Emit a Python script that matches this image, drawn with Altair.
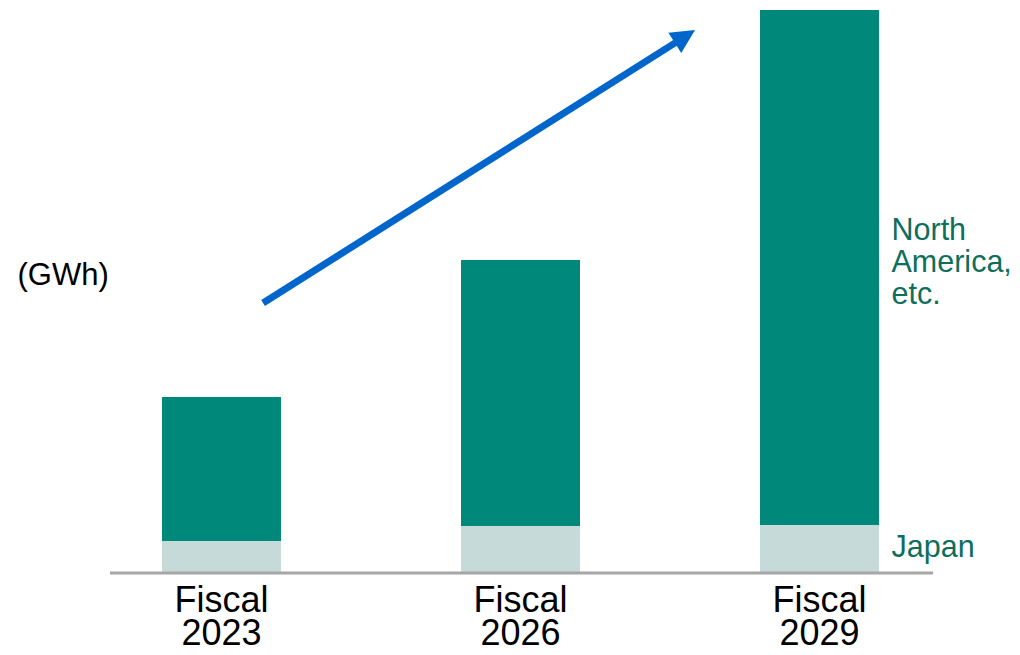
import altair as alt
import pandas as pd

# ---- data ----
years = ["Fiscal 2023", "Fiscal 2026", "Fiscal 2029"]
japan = [3.1, 4.6, 4.7]
north_america = [14.4, 26.6, 51.5]
segments = ["Japan", "North America, etc."]
seg_colors = ["#c6dbd9", "#00897a"]
unit_label = "(GWh)"
na_label = ["North", "America,", "etc."]
jp_label = ["Japan"]

# annotation arrow (x in category-position units, y in value units)
arrow_tail = [0.139, 26.9]
arrow_end = [1.525, 53.06]
arrow_head = [1.550, 53.55]
axis_extent = [-0.373, 2.38]

rows = []
for i, y in enumerate(years):
    rows.append({"year": y, "segment": segments[0], "value": japan[i], "ord": 0})
    rows.append({"year": y, "segment": segments[1], "value": north_america[i], "ord": 1})
df = pd.DataFrame(rows)

na_df = pd.DataFrame({"year": [years[-1]], "label": [na_label],
                      "ymid": [japan[-1] + north_america[-1] / 2]})
jp_df = pd.DataFrame({"year": [years[-1]], "label": [jp_label],
                      "ymid": [japan[-1] / 2]})

arrow_df = pd.DataFrame({"x": [arrow_tail[0]], "y": [arrow_tail[1]],
                         "x2": [arrow_end[0]], "y2": [arrow_end[1]]})
head_df = pd.DataFrame({"x": [arrow_head[0]], "y": [arrow_head[1]]})
axis_df = pd.DataFrame({"x": [axis_extent[0]], "x2": [axis_extent[1]], "y": [0]})

FONT = "Liberation Sans"
X_RANGE = [64, 961]
yscale = alt.Scale(domain=[0, 56.4], nice=False, zero=True)
xband = alt.Scale(domain=years, range=X_RANGE, paddingInner=0.602, paddingOuter=0.301)
xpos = alt.Scale(domain=[-0.5, 2.5], range=X_RANGE, nice=False, zero=False)

bars = alt.Chart(df).mark_bar(strokeWidth=0).encode(
    x=alt.X("year:N", scale=xband, sort=years,
            axis=alt.Axis(title=None, domain=False, ticks=False, labelAngle=0,
                          labelExpr="split(datum.value, ' ')", labelFont=FONT,
                          labelFontSize=36, labelColor="#000000",
                          labelBaseline="alphabetic", labelPadding=39,
                          labelLineHeight=33, labelOverlap=False)),
    y=alt.Y("value:Q", stack="zero", scale=yscale,
            axis=alt.Axis(title=unit_label, labels=False, ticks=False, domain=False,
                          grid=False, titleAngle=0, titleX=9, titleY=267,
                          titleAlign="left", titleBaseline="middle",
                          titleFont=FONT, titleFontSize=31, titleFontWeight="normal",
                          titleColor="#000000")),
    color=alt.Color("segment:N", scale=alt.Scale(domain=segments, range=seg_colors), legend=None),
    order=alt.Order("ord:Q"),
)


def side_label(data, dy):
    return alt.Chart(data).mark_text(
        align="left", baseline="middle", dx=72, dy=dy, font=FONT, fontSize=30.5,
        lineHeight=32, color="#0e6e5c"
    ).encode(
        x=alt.X("year:N", scale=xband, sort=years, axis=None),
        y=alt.Y("ymid:Q", scale=yscale),
        text="label",
    )


na_text = side_label(na_df, -37)
jp_text = side_label(jp_df, -1)

axis_line = alt.Chart(axis_df).mark_rule(color="#a6a6a6", strokeWidth=3, yOffset=1).encode(
    x=alt.X("x:Q", scale=xpos, axis=None),
    x2="x2:Q",
    y=alt.Y("y:Q", scale=yscale),
)

arrow_line = alt.Chart(arrow_df).mark_rule(color="#0066cc", strokeWidth=7, strokeCap="butt").encode(
    x=alt.X("x:Q", scale=xpos, axis=None),
    x2="x2:Q",
    y=alt.Y("y:Q", scale=yscale),
    y2="y2:Q",
)

arrow_tip = alt.Chart(head_df).mark_point(
    shape="M0,-1L1,1L-1,1Z", filled=True, size=576, angle=57.7,
    color="#0066cc", opacity=1, strokeWidth=0
).encode(
    x=alt.X("x:Q", scale=xpos, axis=None),
    y=alt.Y("y:Q", scale=yscale),
)

chart = alt.layer(bars, na_text, jp_text, axis_line, arrow_line, arrow_tip).resolve_scale(
    x="independent"
).properties(
    width=1004, height=564,
    autosize=alt.AutoSizeParams(type="none"),
    padding={"left": 0, "top": 0, "right": 0, "bottom": 75},
).configure_view(stroke=None)

chart.save("out.html", embed_options={"renderer": "svg", "actions": False})
